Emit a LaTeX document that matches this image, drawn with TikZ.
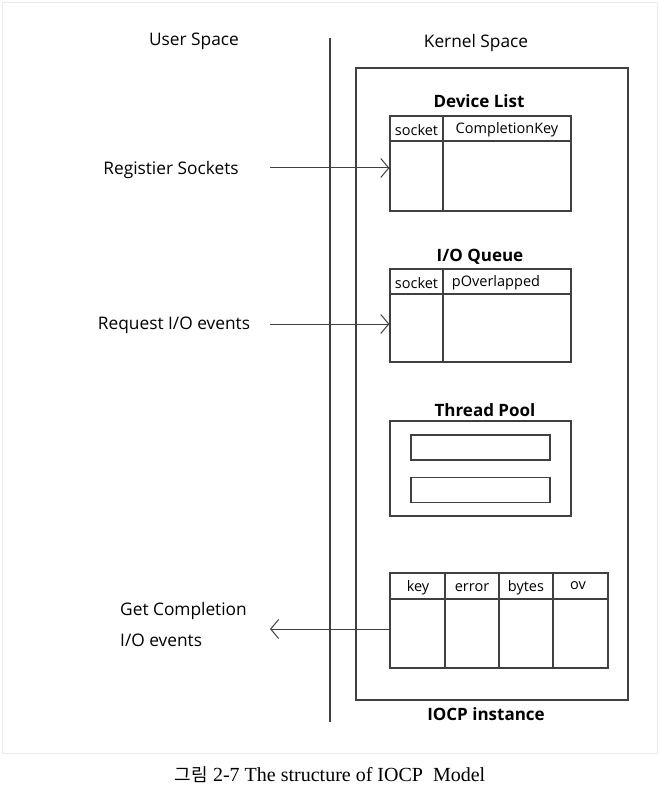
\documentclass[tikz,border=0pt]{standalone}
\usepackage{fontspec}
\setmainfont{Open Sans}
\newfontfamily\capfont{Liberation Serif}
\newfontfamily\cjk{Noto Sans CJK KR}
\usetikzlibrary{positioning,arrows.meta}
\tikzset{
  lbl/.style={font=\fontsize{17.3}{20}\selectfont, inner sep=0pt},
  title/.style={font=\fontsize{17}{20}\selectfont\bfseries, inner sep=0pt},
  cell/.style={font=\fontsize{14.5}{17}\selectfont, inner sep=0pt},
  tbl/.style={rectangle, draw=black!75, line width=1.2pt, inner sep=0pt},
  rule/.style={draw=black!75, line width=1.2pt},
  connect/.style={-{Straight Barb[length=8pt,width=19pt]}, line width=1pt, black!75}
}

\begin{document}
\begin{tikzpicture}[x=1pt,y=-1pt]
  \useasboundingbox (0,0) rectangle (659,794);
  \draw[black!8] (2,2) rectangle (657,753);

  % user side / kernel side
  \node[lbl] (User) at (194,41) {User Space};
  \node[lbl] (Kernel) at (476,43) {Kernel Space};
  \coordinate (divTop) at (330,38);
  \coordinate (divBot) at (330,722);
  \draw[rule] (divTop) -- (divBot);

  \node[tbl, minimum width=272, minimum height=632] (iocp) at (492,384) {};
  \node[title] (IOCP) at (486,714) {IOCP instance};

  % device list
  \node[tbl, minimum width=181, minimum height=95] (dev) at (480.5,163.5) {};
  \node[title] (DevT) at (479,101) {Device List};
  \draw[rule] (dev.west |- 0,141) -- (dev.east |- 0,141);
  \draw[rule] (dev.north -| 443,0) -- (dev.south -| 443,0);
  \node[cell] (devS) at (416.5,130) {socket};
  \node[cell] (devK) at (507,130) {CompletionKey};

  % i/o queue
  \node[tbl, minimum width=181, minimum height=93] (ioq) at (480.5,315.5) {};
  \node[title] (IoqT) at (480,257) {I/O Queue};
  \draw[rule] (ioq.west |- 0,294) -- (ioq.east |- 0,294);
  \draw[rule] (ioq.north -| 443,0) -- (ioq.south -| 443,0);
  \node[cell] (ioqS) at (416.5,283) {socket};
  \node[cell] (ioqO) at (496,283) {pOverlapped};

  % thread pool
  \node[tbl, minimum width=181, minimum height=95] (pool) at (480.5,468.5) {};
  \node[title] (PoolT) at (485,410) {Thread Pool};
  \node[tbl, minimum width=139, minimum height=25] (thr1) at (480.5,447.5) {};
  \node[tbl, minimum width=139, minimum height=25, below=16pt of thr1] (thr2) {};

  % completion queue
  \node[tbl, minimum width=218, minimum height=95] (cq) at (499,620.5) {};
  \draw[rule] (cq.west |- 0,599) -- (cq.east |- 0,599);
  \foreach \x in {445,499,553}
    \draw[rule] (cq.north -| \x,0) -- (cq.south -| \x,0);
  \node[cell] (cqK) at (418,588) {key};
  \node[cell] (cqE) at (472,588) {error};
  \node[cell] (cqB) at (526,588) {bytes};
  \node[cell] (cqO) at (578,586) {ov};

  % user calls
  \node[lbl] (Reg) at (171,170) {Registier Sockets};
  \node[lbl] (Req) at (174,325) {Request I/O events};
  \node[lbl, anchor=west, align=left, font=\fontsize{17.3}{31}\selectfont] (Get) at (120,624.5)
      {Get Completion\\I/O events};
  \coordinate (regA) at (270,168);
  \coordinate (reqA) at (270,324);
  \coordinate (getA) at (270,629);
  \draw[connect] (regA) -- (regA -| dev.west);
  \draw[connect] (reqA) -- (reqA -| ioq.west);
  \draw[connect] (getA -| cq.west) -- (getA);

  \node[font=\fontsize{20}{24}\selectfont] (Cap) at (330,775)
      {{\cjk\fontsize{18}{24}\selectfont 그림} \capfont 2-7 The structure of IOCP~ Model};
\end{tikzpicture}
\end{document}
